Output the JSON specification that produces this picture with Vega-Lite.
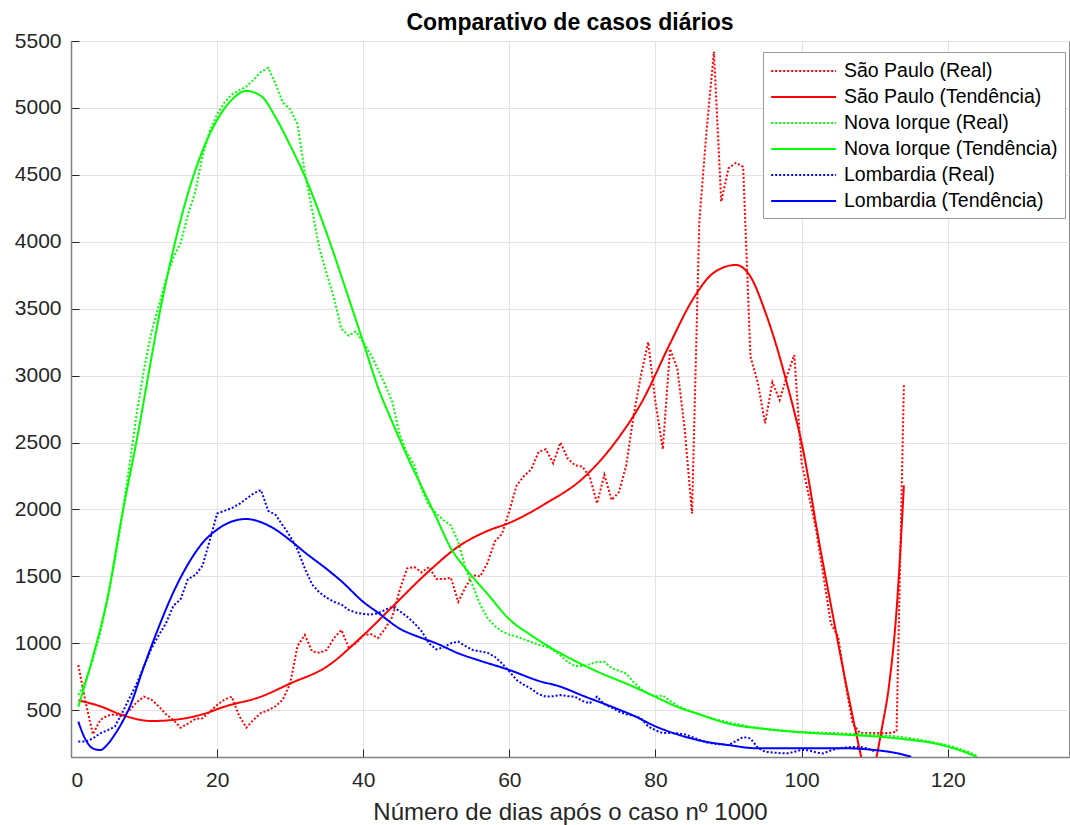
{
"$schema": "https://vega.github.io/schema/vega-lite/v6.json",
"width": 998, "height": 716,
"autosize": {"type": "none"},
"padding": {"left": 71, "top": 41, "right": 1, "bottom": 68},
"background": "white",
"title": {"text": "Comparativo de casos diários", "font": "Liberation Sans", "fontSize": 23, "fontWeight": "bold", "color": "#000000", "offset": -5, "anchor": "middle", "frame": "group"},
"datasets": {
"real": [
{"serie":"São Paulo (Real)","dia":1,"casos":838},{"serie":"São Paulo (Real)","dia":2,"casos":560},{"serie":"São Paulo (Real)","dia":3,"casos":320},{"serie":"São Paulo (Real)","dia":4,"casos":428},{"serie":"São Paulo (Real)","dia":5,"casos":460},{"serie":"São Paulo (Real)","dia":6,"casos":470},{"serie":"São Paulo (Real)","dia":7,"casos":452},{"serie":"São Paulo (Real)","dia":8,"casos":500},{"serie":"São Paulo (Real)","dia":9,"casos":560},{"serie":"São Paulo (Real)","dia":10,"casos":602},
{"serie":"São Paulo (Real)","dia":11,"casos":580},{"serie":"São Paulo (Real)","dia":12,"casos":530},{"serie":"São Paulo (Real)","dia":13,"casos":470},{"serie":"São Paulo (Real)","dia":14,"casos":428},{"serie":"São Paulo (Real)","dia":15,"casos":370},{"serie":"São Paulo (Real)","dia":16,"casos":400},{"serie":"São Paulo (Real)","dia":17,"casos":435},{"serie":"São Paulo (Real)","dia":18,"casos":440},{"serie":"São Paulo (Real)","dia":19,"casos":490},{"serie":"São Paulo (Real)","dia":20,"casos":540},
{"serie":"São Paulo (Real)","dia":21,"casos":580},{"serie":"São Paulo (Real)","dia":22,"casos":602},{"serie":"São Paulo (Real)","dia":23,"casos":460},{"serie":"São Paulo (Real)","dia":24,"casos":370},{"serie":"São Paulo (Real)","dia":25,"casos":430},{"serie":"São Paulo (Real)","dia":26,"casos":480},{"serie":"São Paulo (Real)","dia":27,"casos":500},{"serie":"São Paulo (Real)","dia":28,"casos":530},{"serie":"São Paulo (Real)","dia":29,"casos":580},{"serie":"São Paulo (Real)","dia":30,"casos":700},
{"serie":"São Paulo (Real)","dia":31,"casos":980},{"serie":"São Paulo (Real)","dia":32,"casos":1063},{"serie":"São Paulo (Real)","dia":33,"casos":940},{"serie":"São Paulo (Real)","dia":34,"casos":930},{"serie":"São Paulo (Real)","dia":35,"casos":950},{"serie":"São Paulo (Real)","dia":36,"casos":1040},{"serie":"São Paulo (Real)","dia":37,"casos":1100},{"serie":"São Paulo (Real)","dia":38,"casos":970},{"serie":"São Paulo (Real)","dia":39,"casos":1000},{"serie":"São Paulo (Real)","dia":40,"casos":1060},
{"serie":"São Paulo (Real)","dia":41,"casos":1070},{"serie":"São Paulo (Real)","dia":42,"casos":1040},{"serie":"São Paulo (Real)","dia":43,"casos":1110},{"serie":"São Paulo (Real)","dia":44,"casos":1200},{"serie":"São Paulo (Real)","dia":45,"casos":1400},{"serie":"São Paulo (Real)","dia":46,"casos":1560},{"serie":"São Paulo (Real)","dia":47,"casos":1570},{"serie":"São Paulo (Real)","dia":48,"casos":1530},{"serie":"São Paulo (Real)","dia":49,"casos":1570},{"serie":"São Paulo (Real)","dia":50,"casos":1480},
{"serie":"São Paulo (Real)","dia":51,"casos":1480},{"serie":"São Paulo (Real)","dia":52,"casos":1490},{"serie":"São Paulo (Real)","dia":53,"casos":1310},{"serie":"São Paulo (Real)","dia":54,"casos":1420},{"serie":"São Paulo (Real)","dia":55,"casos":1510},{"serie":"São Paulo (Real)","dia":56,"casos":1500},{"serie":"São Paulo (Real)","dia":57,"casos":1600},{"serie":"São Paulo (Real)","dia":58,"casos":1760},{"serie":"São Paulo (Real)","dia":59,"casos":1820},{"serie":"São Paulo (Real)","dia":60,"casos":1990},
{"serie":"São Paulo (Real)","dia":61,"casos":2180},{"serie":"São Paulo (Real)","dia":62,"casos":2250},{"serie":"São Paulo (Real)","dia":63,"casos":2300},{"serie":"São Paulo (Real)","dia":64,"casos":2430},{"serie":"São Paulo (Real)","dia":65,"casos":2450},{"serie":"São Paulo (Real)","dia":66,"casos":2345},{"serie":"São Paulo (Real)","dia":67,"casos":2500},{"serie":"São Paulo (Real)","dia":68,"casos":2380},{"serie":"São Paulo (Real)","dia":69,"casos":2330},{"serie":"São Paulo (Real)","dia":70,"casos":2320},
{"serie":"São Paulo (Real)","dia":71,"casos":2245},{"serie":"São Paulo (Real)","dia":72,"casos":2046},{"serie":"São Paulo (Real)","dia":73,"casos":2260},{"serie":"São Paulo (Real)","dia":74,"casos":2071},{"serie":"São Paulo (Real)","dia":75,"casos":2130},{"serie":"São Paulo (Real)","dia":76,"casos":2330},{"serie":"São Paulo (Real)","dia":77,"casos":2700},{"serie":"São Paulo (Real)","dia":78,"casos":3000},{"serie":"São Paulo (Real)","dia":79,"casos":3250},{"serie":"São Paulo (Real)","dia":80,"casos":2800},
{"serie":"São Paulo (Real)","dia":81,"casos":2450},{"serie":"São Paulo (Real)","dia":82,"casos":3200},{"serie":"São Paulo (Real)","dia":83,"casos":3050},{"serie":"São Paulo (Real)","dia":84,"casos":2600},{"serie":"São Paulo (Real)","dia":85,"casos":1970},{"serie":"São Paulo (Real)","dia":86,"casos":4150},{"serie":"São Paulo (Real)","dia":87,"casos":4835},{"serie":"São Paulo (Real)","dia":88,"casos":5420},{"serie":"São Paulo (Real)","dia":89,"casos":4300},{"serie":"São Paulo (Real)","dia":90,"casos":4550},
{"serie":"São Paulo (Real)","dia":91,"casos":4590},{"serie":"São Paulo (Real)","dia":92,"casos":4560},{"serie":"São Paulo (Real)","dia":93,"casos":3142},{"serie":"São Paulo (Real)","dia":94,"casos":2950},{"serie":"São Paulo (Real)","dia":95,"casos":2644},{"serie":"São Paulo (Real)","dia":96,"casos":2950},{"serie":"São Paulo (Real)","dia":97,"casos":2818},{"serie":"São Paulo (Real)","dia":98,"casos":3000},{"serie":"São Paulo (Real)","dia":99,"casos":3154},{"serie":"São Paulo (Real)","dia":100,"casos":2350},
{"serie":"São Paulo (Real)","dia":101,"casos":2100},{"serie":"São Paulo (Real)","dia":102,"casos":1847},{"serie":"São Paulo (Real)","dia":103,"casos":1500},{"serie":"São Paulo (Real)","dia":104,"casos":1150},{"serie":"São Paulo (Real)","dia":105,"casos":1050},{"serie":"São Paulo (Real)","dia":106,"casos":700},{"serie":"São Paulo (Real)","dia":107,"casos":400},{"serie":"São Paulo (Real)","dia":108,"casos":330},{"serie":"São Paulo (Real)","dia":109,"casos":330},{"serie":"São Paulo (Real)","dia":110,"casos":330},
{"serie":"São Paulo (Real)","dia":111,"casos":330},{"serie":"São Paulo (Real)","dia":112,"casos":330},{"serie":"São Paulo (Real)","dia":113,"casos":340},{"serie":"São Paulo (Real)","dia":114,"casos":2930},
{"serie":"Nova Iorque (Real)","dia":1,"casos":614},{"serie":"Nova Iorque (Real)","dia":2,"casos":720},{"serie":"Nova Iorque (Real)","dia":3,"casos":880},{"serie":"Nova Iorque (Real)","dia":4,"casos":1080},{"serie":"Nova Iorque (Real)","dia":5,"casos":1330},{"serie":"Nova Iorque (Real)","dia":6,"casos":1620},{"serie":"Nova Iorque (Real)","dia":7,"casos":1950},{"serie":"Nova Iorque (Real)","dia":8,"casos":2330},{"serie":"Nova Iorque (Real)","dia":9,"casos":2720},{"serie":"Nova Iorque (Real)","dia":10,"casos":3050},
{"serie":"Nova Iorque (Real)","dia":11,"casos":3320},{"serie":"Nova Iorque (Real)","dia":12,"casos":3520},{"serie":"Nova Iorque (Real)","dia":13,"casos":3720},{"serie":"Nova Iorque (Real)","dia":14,"casos":3880},{"serie":"Nova Iorque (Real)","dia":15,"casos":3990},{"serie":"Nova Iorque (Real)","dia":16,"casos":4200},{"serie":"Nova Iorque (Real)","dia":17,"casos":4370},{"serie":"Nova Iorque (Real)","dia":18,"casos":4640},{"serie":"Nova Iorque (Real)","dia":19,"casos":4830},{"serie":"Nova Iorque (Real)","dia":20,"casos":4950},
{"serie":"Nova Iorque (Real)","dia":21,"casos":5040},{"serie":"Nova Iorque (Real)","dia":22,"casos":5100},{"serie":"Nova Iorque (Real)","dia":23,"casos":5130},{"serie":"Nova Iorque (Real)","dia":24,"casos":5160},{"serie":"Nova Iorque (Real)","dia":25,"casos":5210},{"serie":"Nova Iorque (Real)","dia":26,"casos":5270},{"serie":"Nova Iorque (Real)","dia":27,"casos":5300},{"serie":"Nova Iorque (Real)","dia":28,"casos":5180},{"serie":"Nova Iorque (Real)","dia":29,"casos":5040},{"serie":"Nova Iorque (Real)","dia":30,"casos":4990},
{"serie":"Nova Iorque (Real)","dia":31,"casos":4880},{"serie":"Nova Iorque (Real)","dia":32,"casos":4520},{"serie":"Nova Iorque (Real)","dia":33,"casos":4240},{"serie":"Nova Iorque (Real)","dia":34,"casos":3950},{"serie":"Nova Iorque (Real)","dia":35,"casos":3760},{"serie":"Nova Iorque (Real)","dia":36,"casos":3580},{"serie":"Nova Iorque (Real)","dia":37,"casos":3350},{"serie":"Nova Iorque (Real)","dia":38,"casos":3300},{"serie":"Nova Iorque (Real)","dia":39,"casos":3330},{"serie":"Nova Iorque (Real)","dia":40,"casos":3250},
{"serie":"Nova Iorque (Real)","dia":41,"casos":3160},{"serie":"Nova Iorque (Real)","dia":42,"casos":3050},{"serie":"Nova Iorque (Real)","dia":43,"casos":2930},{"serie":"Nova Iorque (Real)","dia":44,"casos":2800},{"serie":"Nova Iorque (Real)","dia":45,"casos":2560},{"serie":"Nova Iorque (Real)","dia":46,"casos":2420},{"serie":"Nova Iorque (Real)","dia":47,"casos":2330},{"serie":"Nova Iorque (Real)","dia":48,"casos":2150},{"serie":"Nova Iorque (Real)","dia":49,"casos":2030},{"serie":"Nova Iorque (Real)","dia":50,"casos":1970},
{"serie":"Nova Iorque (Real)","dia":51,"casos":1920},{"serie":"Nova Iorque (Real)","dia":52,"casos":1880},{"serie":"Nova Iorque (Real)","dia":53,"casos":1760},{"serie":"Nova Iorque (Real)","dia":54,"casos":1560},{"serie":"Nova Iorque (Real)","dia":55,"casos":1430},{"serie":"Nova Iorque (Real)","dia":56,"casos":1290},{"serie":"Nova Iorque (Real)","dia":57,"casos":1190},{"serie":"Nova Iorque (Real)","dia":58,"casos":1130},{"serie":"Nova Iorque (Real)","dia":59,"casos":1090},{"serie":"Nova Iorque (Real)","dia":60,"casos":1065},
{"serie":"Nova Iorque (Real)","dia":61,"casos":1050},{"serie":"Nova Iorque (Real)","dia":62,"casos":1030},{"serie":"Nova Iorque (Real)","dia":63,"casos":1010},{"serie":"Nova Iorque (Real)","dia":64,"casos":990},{"serie":"Nova Iorque (Real)","dia":65,"casos":975},{"serie":"Nova Iorque (Real)","dia":66,"casos":950},{"serie":"Nova Iorque (Real)","dia":67,"casos":910},{"serie":"Nova Iorque (Real)","dia":68,"casos":860},{"serie":"Nova Iorque (Real)","dia":69,"casos":830},{"serie":"Nova Iorque (Real)","dia":70,"casos":830},
{"serie":"Nova Iorque (Real)","dia":71,"casos":845},{"serie":"Nova Iorque (Real)","dia":72,"casos":860},{"serie":"Nova Iorque (Real)","dia":73,"casos":862},{"serie":"Nova Iorque (Real)","dia":74,"casos":815},{"serie":"Nova Iorque (Real)","dia":75,"casos":795},{"serie":"Nova Iorque (Real)","dia":76,"casos":775},{"serie":"Nova Iorque (Real)","dia":77,"casos":710},{"serie":"Nova Iorque (Real)","dia":78,"casos":660},{"serie":"Nova Iorque (Real)","dia":79,"casos":625},{"serie":"Nova Iorque (Real)","dia":80,"casos":605},
{"serie":"Nova Iorque (Real)","dia":81,"casos":610},{"serie":"Nova Iorque (Real)","dia":82,"casos":570},{"serie":"Nova Iorque (Real)","dia":83,"casos":535},{"serie":"Nova Iorque (Real)","dia":84,"casos":510},{"serie":"Nova Iorque (Real)","dia":85,"casos":490},{"serie":"Nova Iorque (Real)","dia":86,"casos":470},{"serie":"Nova Iorque (Real)","dia":87,"casos":452},{"serie":"Nova Iorque (Real)","dia":88,"casos":436},{"serie":"Nova Iorque (Real)","dia":89,"casos":422},{"serie":"Nova Iorque (Real)","dia":90,"casos":410},
{"serie":"Nova Iorque (Real)","dia":91,"casos":398},{"serie":"Nova Iorque (Real)","dia":92,"casos":388},{"serie":"Nova Iorque (Real)","dia":93,"casos":378},{"serie":"Nova Iorque (Real)","dia":94,"casos":370},{"serie":"Nova Iorque (Real)","dia":95,"casos":362},{"serie":"Nova Iorque (Real)","dia":96,"casos":356},{"serie":"Nova Iorque (Real)","dia":97,"casos":350},{"serie":"Nova Iorque (Real)","dia":98,"casos":346},{"serie":"Nova Iorque (Real)","dia":99,"casos":342},{"serie":"Nova Iorque (Real)","dia":100,"casos":338},
{"serie":"Nova Iorque (Real)","dia":101,"casos":336},{"serie":"Nova Iorque (Real)","dia":102,"casos":334},{"serie":"Nova Iorque (Real)","dia":103,"casos":332},{"serie":"Nova Iorque (Real)","dia":104,"casos":330},{"serie":"Nova Iorque (Real)","dia":105,"casos":328},{"serie":"Nova Iorque (Real)","dia":106,"casos":326},{"serie":"Nova Iorque (Real)","dia":107,"casos":324},{"serie":"Nova Iorque (Real)","dia":108,"casos":322},{"serie":"Nova Iorque (Real)","dia":109,"casos":320},{"serie":"Nova Iorque (Real)","dia":110,"casos":318},
{"serie":"Nova Iorque (Real)","dia":111,"casos":314},{"serie":"Nova Iorque (Real)","dia":112,"casos":310},{"serie":"Nova Iorque (Real)","dia":113,"casos":305},{"serie":"Nova Iorque (Real)","dia":114,"casos":298},{"serie":"Nova Iorque (Real)","dia":115,"casos":290},{"serie":"Nova Iorque (Real)","dia":116,"casos":282},{"serie":"Nova Iorque (Real)","dia":117,"casos":272},{"serie":"Nova Iorque (Real)","dia":118,"casos":262},{"serie":"Nova Iorque (Real)","dia":119,"casos":250},{"serie":"Nova Iorque (Real)","dia":120,"casos":238},
{"serie":"Nova Iorque (Real)","dia":121,"casos":222},{"serie":"Nova Iorque (Real)","dia":122,"casos":205},{"serie":"Nova Iorque (Real)","dia":123,"casos":185},{"serie":"Nova Iorque (Real)","dia":124,"casos":160},
{"serie":"Lombardia (Real)","dia":1,"casos":266},{"serie":"Lombardia (Real)","dia":2,"casos":266},{"serie":"Lombardia (Real)","dia":3,"casos":290},{"serie":"Lombardia (Real)","dia":4,"casos":328},{"serie":"Lombardia (Real)","dia":5,"casos":350},{"serie":"Lombardia (Real)","dia":6,"casos":378},{"serie":"Lombardia (Real)","dia":7,"casos":480},{"serie":"Lombardia (Real)","dia":8,"casos":590},{"serie":"Lombardia (Real)","dia":9,"casos":700},{"serie":"Lombardia (Real)","dia":10,"casos":830},
{"serie":"Lombardia (Real)","dia":11,"casos":960},{"serie":"Lombardia (Real)","dia":12,"casos":1060},{"serie":"Lombardia (Real)","dia":13,"casos":1150},{"serie":"Lombardia (Real)","dia":14,"casos":1280},{"serie":"Lombardia (Real)","dia":15,"casos":1330},{"serie":"Lombardia (Real)","dia":16,"casos":1480},{"serie":"Lombardia (Real)","dia":17,"casos":1510},{"serie":"Lombardia (Real)","dia":18,"casos":1580},{"serie":"Lombardia (Real)","dia":19,"casos":1770},{"serie":"Lombardia (Real)","dia":20,"casos":1970},
{"serie":"Lombardia (Real)","dia":21,"casos":1990},{"serie":"Lombardia (Real)","dia":22,"casos":2010},{"serie":"Lombardia (Real)","dia":23,"casos":2040},{"serie":"Lombardia (Real)","dia":24,"casos":2080},{"serie":"Lombardia (Real)","dia":25,"casos":2120},{"serie":"Lombardia (Real)","dia":26,"casos":2146},{"serie":"Lombardia (Real)","dia":27,"casos":1990},{"serie":"Lombardia (Real)","dia":28,"casos":1960},{"serie":"Lombardia (Real)","dia":29,"casos":1880},{"serie":"Lombardia (Real)","dia":30,"casos":1800},
{"serie":"Lombardia (Real)","dia":31,"casos":1700},{"serie":"Lombardia (Real)","dia":32,"casos":1560},{"serie":"Lombardia (Real)","dia":33,"casos":1440},{"serie":"Lombardia (Real)","dia":34,"casos":1380},{"serie":"Lombardia (Real)","dia":35,"casos":1340},{"serie":"Lombardia (Real)","dia":36,"casos":1310},{"serie":"Lombardia (Real)","dia":37,"casos":1290},{"serie":"Lombardia (Real)","dia":38,"casos":1250},{"serie":"Lombardia (Real)","dia":39,"casos":1230},{"serie":"Lombardia (Real)","dia":40,"casos":1220},
{"serie":"Lombardia (Real)","dia":41,"casos":1215},{"serie":"Lombardia (Real)","dia":42,"casos":1225},{"serie":"Lombardia (Real)","dia":43,"casos":1250},{"serie":"Lombardia (Real)","dia":44,"casos":1274},{"serie":"Lombardia (Real)","dia":45,"casos":1240},{"serie":"Lombardia (Real)","dia":46,"casos":1200},{"serie":"Lombardia (Real)","dia":47,"casos":1150},{"serie":"Lombardia (Real)","dia":48,"casos":1090},{"serie":"Lombardia (Real)","dia":49,"casos":1000},{"serie":"Lombardia (Real)","dia":50,"casos":955},
{"serie":"Lombardia (Real)","dia":51,"casos":970},{"serie":"Lombardia (Real)","dia":52,"casos":1000},{"serie":"Lombardia (Real)","dia":53,"casos":1013},{"serie":"Lombardia (Real)","dia":54,"casos":980},{"serie":"Lombardia (Real)","dia":55,"casos":950},{"serie":"Lombardia (Real)","dia":56,"casos":940},{"serie":"Lombardia (Real)","dia":57,"casos":930},{"serie":"Lombardia (Real)","dia":58,"casos":900},{"serie":"Lombardia (Real)","dia":59,"casos":850},{"serie":"Lombardia (Real)","dia":60,"casos":790},
{"serie":"Lombardia (Real)","dia":61,"casos":726},{"serie":"Lombardia (Real)","dia":62,"casos":690},{"serie":"Lombardia (Real)","dia":63,"casos":660},{"serie":"Lombardia (Real)","dia":64,"casos":620},{"serie":"Lombardia (Real)","dia":65,"casos":602},{"serie":"Lombardia (Real)","dia":66,"casos":605},{"serie":"Lombardia (Real)","dia":67,"casos":614},{"serie":"Lombardia (Real)","dia":68,"casos":605},{"serie":"Lombardia (Real)","dia":69,"casos":602},{"serie":"Lombardia (Real)","dia":70,"casos":570},
{"serie":"Lombardia (Real)","dia":71,"casos":552},{"serie":"Lombardia (Real)","dia":72,"casos":602},{"serie":"Lombardia (Real)","dia":73,"casos":545},{"serie":"Lombardia (Real)","dia":74,"casos":520},{"serie":"Lombardia (Real)","dia":75,"casos":490},{"serie":"Lombardia (Real)","dia":76,"casos":470},{"serie":"Lombardia (Real)","dia":77,"casos":460},{"serie":"Lombardia (Real)","dia":78,"casos":440},{"serie":"Lombardia (Real)","dia":79,"casos":380},{"serie":"Lombardia (Real)","dia":80,"casos":350},
{"serie":"Lombardia (Real)","dia":81,"casos":330},{"serie":"Lombardia (Real)","dia":82,"casos":330},{"serie":"Lombardia (Real)","dia":83,"casos":328},{"serie":"Lombardia (Real)","dia":84,"casos":320},{"serie":"Lombardia (Real)","dia":85,"casos":300},{"serie":"Lombardia (Real)","dia":86,"casos":280},{"serie":"Lombardia (Real)","dia":87,"casos":260},{"serie":"Lombardia (Real)","dia":88,"casos":250},{"serie":"Lombardia (Real)","dia":89,"casos":245},{"serie":"Lombardia (Real)","dia":90,"casos":240},
{"serie":"Lombardia (Real)","dia":91,"casos":270},{"serie":"Lombardia (Real)","dia":92,"casos":300},{"serie":"Lombardia (Real)","dia":93,"casos":290},{"serie":"Lombardia (Real)","dia":94,"casos":220},{"serie":"Lombardia (Real)","dia":95,"casos":190},{"serie":"Lombardia (Real)","dia":96,"casos":185},{"serie":"Lombardia (Real)","dia":97,"casos":180},{"serie":"Lombardia (Real)","dia":98,"casos":178},{"serie":"Lombardia (Real)","dia":99,"casos":190},{"serie":"Lombardia (Real)","dia":100,"casos":205},
{"serie":"Lombardia (Real)","dia":101,"casos":200},{"serie":"Lombardia (Real)","dia":102,"casos":185},{"serie":"Lombardia (Real)","dia":103,"casos":178},{"serie":"Lombardia (Real)","dia":104,"casos":200},{"serie":"Lombardia (Real)","dia":105,"casos":216},{"serie":"Lombardia (Real)","dia":106,"casos":222},{"serie":"Lombardia (Real)","dia":107,"casos":226},{"serie":"Lombardia (Real)","dia":108,"casos":228},{"serie":"Lombardia (Real)","dia":109,"casos":215},{"serie":"Lombardia (Real)","dia":110,"casos":195}
],
"tend": [
{"serie":"São Paulo (Tendência)","dia":1,"casos":575},{"serie":"São Paulo (Tendência)","dia":4,"casos":530},{"serie":"São Paulo (Tendência)","dia":7,"casos":465},{"serie":"São Paulo (Tendência)","dia":11,"casos":420},{"serie":"São Paulo (Tendência)","dia":14,"casos":428},{"serie":"São Paulo (Tendência)","dia":18,"casos":470},{"serie":"São Paulo (Tendência)","dia":21,"casos":527},{"serie":"São Paulo (Tendência)","dia":26,"casos":602},{"serie":"São Paulo (Tendência)","dia":30,"casos":700},{"serie":"São Paulo (Tendência)","dia":35,"casos":826},
{"serie":"São Paulo (Tendência)","dia":40,"casos":1060},{"serie":"São Paulo (Tendência)","dia":44,"casos":1274},{"serie":"São Paulo (Tendência)","dia":49,"casos":1540},{"serie":"São Paulo (Tendência)","dia":53,"casos":1723},{"serie":"São Paulo (Tendência)","dia":57,"casos":1840},{"serie":"São Paulo (Tendência)","dia":60,"casos":1900},{"serie":"São Paulo (Tendência)","dia":65,"casos":2046},{"serie":"São Paulo (Tendência)","dia":70,"casos":2230},{"serie":"São Paulo (Tendência)","dia":75,"casos":2540},{"serie":"São Paulo (Tendência)","dia":78,"casos":2790},
{"serie":"São Paulo (Tendência)","dia":82,"casos":3240},{"serie":"São Paulo (Tendência)","dia":85,"casos":3560},{"serie":"São Paulo (Tendência)","dia":88,"casos":3770},{"serie":"São Paulo (Tendência)","dia":91,"casos":3827},{"serie":"São Paulo (Tendência)","dia":93,"casos":3740},{"serie":"São Paulo (Tendência)","dia":95,"casos":3480},{"serie":"São Paulo (Tendência)","dia":96,"casos":3320},{"serie":"São Paulo (Tendência)","dia":97,"casos":3140},{"serie":"São Paulo (Tendência)","dia":98,"casos":2940},{"serie":"São Paulo (Tendência)","dia":99,"casos":2730},
{"serie":"São Paulo (Tendência)","dia":100,"casos":2500},{"serie":"São Paulo (Tendência)","dia":101,"casos":2210},{"serie":"São Paulo (Tendência)","dia":102,"casos":1880},{"serie":"São Paulo (Tendência)","dia":104,"casos":1290},
{"serie":"São Paulo (Tendência)","dia":106,"casos":720},{"serie":"São Paulo (Tendência)","dia":108,"casos":190},{"serie":"São Paulo (Tendência)","dia":109,"casos":-60},{"serie":"São Paulo (Tendência)","dia":110,"casos":90},{"serie":"São Paulo (Tendência)","dia":111,"casos":370},{"serie":"São Paulo (Tendência)","dia":112,"casos":700},{"serie":"São Paulo (Tendência)","dia":113,"casos":1250},{"serie":"São Paulo (Tendência)","dia":114,"casos":2180},
{"serie":"Nova Iorque (Tendência)","dia":1,"casos":527},{"serie":"Nova Iorque (Tendência)","dia":3,"casos":900},{"serie":"Nova Iorque (Tendência)","dia":5,"casos":1340},{"serie":"Nova Iorque (Tendência)","dia":7,"casos":1960},{"serie":"Nova Iorque (Tendência)","dia":9,"casos":2519},{"serie":"Nova Iorque (Tendência)","dia":11,"casos":3130},{"serie":"Nova Iorque (Tendência)","dia":12,"casos":3430},{"serie":"Nova Iorque (Tendência)","dia":14,"casos":3940},{"serie":"Nova Iorque (Tendência)","dia":16,"casos":4360},{"serie":"Nova Iorque (Tendência)","dia":18,"casos":4680},
{"serie":"Nova Iorque (Tendência)","dia":20,"casos":4910},{"serie":"Nova Iorque (Tendência)","dia":22,"casos":5060},{"serie":"Nova Iorque (Tendência)","dia":24,"casos":5127},{"serie":"Nova Iorque (Tendência)","dia":26,"casos":5090},{"serie":"Nova Iorque (Tendência)","dia":28,"casos":4930},{"serie":"Nova Iorque (Tendência)","dia":30,"casos":4720},{"serie":"Nova Iorque (Tendência)","dia":32,"casos":4490},{"serie":"Nova Iorque (Tendência)","dia":35,"casos":4063},{"serie":"Nova Iorque (Tendência)","dia":38,"casos":3580},{"serie":"Nova Iorque (Tendência)","dia":40,"casos":3250},
{"serie":"Nova Iorque (Tendência)","dia":42,"casos":2915},{"serie":"Nova Iorque (Tendência)","dia":44,"casos":2650},{"serie":"Nova Iorque (Tendência)","dia":46,"casos":2400},{"serie":"Nova Iorque (Tendência)","dia":48,"casos":2170},{"serie":"Nova Iorque (Tendência)","dia":50,"casos":1940},{"serie":"Nova Iorque (Tendência)","dia":52,"casos":1710},{"serie":"Nova Iorque (Tendência)","dia":54,"casos":1560},{"serie":"Nova Iorque (Tendência)","dia":57,"casos":1370},{"serie":"Nova Iorque (Tendência)","dia":60,"casos":1180},{"serie":"Nova Iorque (Tendência)","dia":63,"casos":1060},
{"serie":"Nova Iorque (Tendência)","dia":67,"casos":926},{"serie":"Nova Iorque (Tendência)","dia":72,"casos":790},{"serie":"Nova Iorque (Tendência)","dia":77,"casos":676},{"serie":"Nova Iorque (Tendência)","dia":80,"casos":600},{"serie":"Nova Iorque (Tendência)","dia":83,"casos":525},{"serie":"Nova Iorque (Tendência)","dia":86,"casos":470},{"serie":"Nova Iorque (Tendência)","dia":90,"casos":400},{"serie":"Nova Iorque (Tendência)","dia":95,"casos":360},{"serie":"Nova Iorque (Tendência)","dia":100,"casos":335},{"serie":"Nova Iorque (Tendência)","dia":105,"casos":320},
{"serie":"Nova Iorque (Tendência)","dia":110,"casos":305},{"serie":"Nova Iorque (Tendência)","dia":115,"casos":278},{"serie":"Nova Iorque (Tendência)","dia":118,"casos":255},{"serie":"Nova Iorque (Tendência)","dia":120,"casos":228},{"serie":"Nova Iorque (Tendência)","dia":122,"casos":195},{"serie":"Nova Iorque (Tendência)","dia":124,"casos":150},
{"serie":"Lombardia (Tendência)","dia":1,"casos":415},{"serie":"Lombardia (Tendência)","dia":2,"casos":280},{"serie":"Lombardia (Tendência)","dia":3,"casos":215},{"serie":"Lombardia (Tendência)","dia":4,"casos":203},{"serie":"Lombardia (Tendência)","dia":5,"casos":245},{"serie":"Lombardia (Tendência)","dia":6,"casos":320},{"serie":"Lombardia (Tendência)","dia":7,"casos":410},{"serie":"Lombardia (Tendência)","dia":8,"casos":520},{"serie":"Lombardia (Tendência)","dia":10,"casos":830},{"serie":"Lombardia (Tendência)","dia":12,"casos":1120},
{"serie":"Lombardia (Tendência)","dia":14,"casos":1380},{"serie":"Lombardia (Tendência)","dia":16,"casos":1590},{"serie":"Lombardia (Tendência)","dia":18,"casos":1750},{"serie":"Lombardia (Tendência)","dia":20,"casos":1850},{"serie":"Lombardia (Tendência)","dia":22,"casos":1910},{"serie":"Lombardia (Tendência)","dia":24,"casos":1929},{"serie":"Lombardia (Tendência)","dia":26,"casos":1905},{"serie":"Lombardia (Tendência)","dia":28,"casos":1850},{"serie":"Lombardia (Tendência)","dia":30,"casos":1770},{"serie":"Lombardia (Tendência)","dia":32,"casos":1680},
{"serie":"Lombardia (Tendência)","dia":35,"casos":1555},{"serie":"Lombardia (Tendência)","dia":37,"casos":1465},{"serie":"Lombardia (Tendência)","dia":40,"casos":1310},{"serie":"Lombardia (Tendência)","dia":42,"casos":1230},{"serie":"Lombardia (Tendência)","dia":45,"casos":1110},{"serie":"Lombardia (Tendência)","dia":48,"casos":1040},{"serie":"Lombardia (Tendência)","dia":50,"casos":1000},{"serie":"Lombardia (Tendência)","dia":53,"casos":926},{"serie":"Lombardia (Tendência)","dia":56,"casos":870},{"serie":"Lombardia (Tendência)","dia":60,"casos":801},
{"serie":"Lombardia (Tendência)","dia":64,"casos":720},{"serie":"Lombardia (Tendência)","dia":67,"casos":676},{"serie":"Lombardia (Tendência)","dia":70,"casos":610},{"serie":"Lombardia (Tendência)","dia":74,"casos":527},{"serie":"Lombardia (Tendência)","dia":77,"casos":460},{"serie":"Lombardia (Tendência)","dia":80,"casos":380},{"serie":"Lombardia (Tendência)","dia":83,"casos":320},{"serie":"Lombardia (Tendência)","dia":86,"casos":275},{"serie":"Lombardia (Tendência)","dia":90,"casos":240},{"serie":"Lombardia (Tendência)","dia":94,"casos":216},
{"serie":"Lombardia (Tendência)","dia":100,"casos":216},{"serie":"Lombardia (Tendência)","dia":106,"casos":216},{"serie":"Lombardia (Tendência)","dia":110,"casos":203},{"serie":"Lombardia (Tendência)","dia":113,"casos":180},{"serie":"Lombardia (Tendência)","dia":115,"casos":153}
]
},
"encoding": {
"x": {"field": "dia", "type": "quantitative", "scale": {"domain": [0, 136.6], "nice": false, "zero": false},
 "axis": {"title": "Número de dias após o caso nº 1000", "values": [0,20,40,60,80,100,120], "labelPadding": 20, "titlePadding": 10}},
"y": {"field": "casos", "type": "quantitative", "scale": {"domain": [151, 5500], "nice": false, "zero": false},
 "axis": {"title": null, "format": "d", "values": [500,1000,1500,2000,2500,3000,3500,4000,4500,5000,5500], "labelPadding": 18}},
"color": {"field": "serie", "type": "nominal",
 "scale": {"domain": ["São Paulo (Real)","São Paulo (Tendência)","Nova Iorque (Real)","Nova Iorque (Tendência)","Lombardia (Real)","Lombardia (Tendência)"],
 "range": ["#ff0000","#ff0000","#00ff00","#00ff00","#0000ff","#0000ff"]},
 "legend": {"title": null, "orient": "none", "legendX": 692, "legendY": 11, "symbolType": "M-1,0H5", "symbolSize": 469, "symbolStrokeWidth": 2, "labelFont": "Liberation Sans", "labelFontSize": 19.5, "labelColor": "#000000", "strokeColor": "#999999", "fillColor": "#ffffff", "padding": 7, "labelOffset": 50, "rowPadding": 4, "labelLimit": 400}},
"strokeDash": {"field": "serie", "type": "nominal",
 "scale": {"domain": ["São Paulo (Real)","São Paulo (Tendência)","Nova Iorque (Real)","Nova Iorque (Tendência)","Lombardia (Real)","Lombardia (Tendência)"],
 "range": [[2,2],[1,0],[2,2],[1,0],[2,2],[1,0]]},
 "legend": {"title": null, "orient": "none", "legendX": 692, "legendY": 11, "symbolType": "M-1,0H5", "symbolSize": 469, "symbolStrokeWidth": 2, "labelFont": "Liberation Sans", "labelFontSize": 19.5, "labelColor": "#000000", "strokeColor": "#999999", "fillColor": "#ffffff", "padding": 7, "labelOffset": 50, "rowPadding": 4, "labelLimit": 400}}
},
"layer": [
{"data": {"name": "real"}, "mark": {"type": "line", "strokeWidth": 2, "clip": true}},
{"data": {"name": "tend"}, "mark": {"type": "line", "strokeWidth": 2, "interpolate": "monotone", "clip": true}}
],
"config": {
"view": {"stroke": "#888888", "strokeWidth": 1},
"axis": {"labelFont": "Liberation Sans", "labelFontSize": 21, "labelColor": "#262626", "titleFont": "Liberation Sans", "titleFontSize": 24, "titleFontWeight": "normal", "titleColor": "#262626",
 "domainColor": "#808080", "domainWidth": 1.5, "ticks": true, "tickColor": "#262626", "tickSize": -8, "tickWidth": 1, "grid": true, "gridColor": "#e3e3e3", "gridWidth": 1}
}
}
